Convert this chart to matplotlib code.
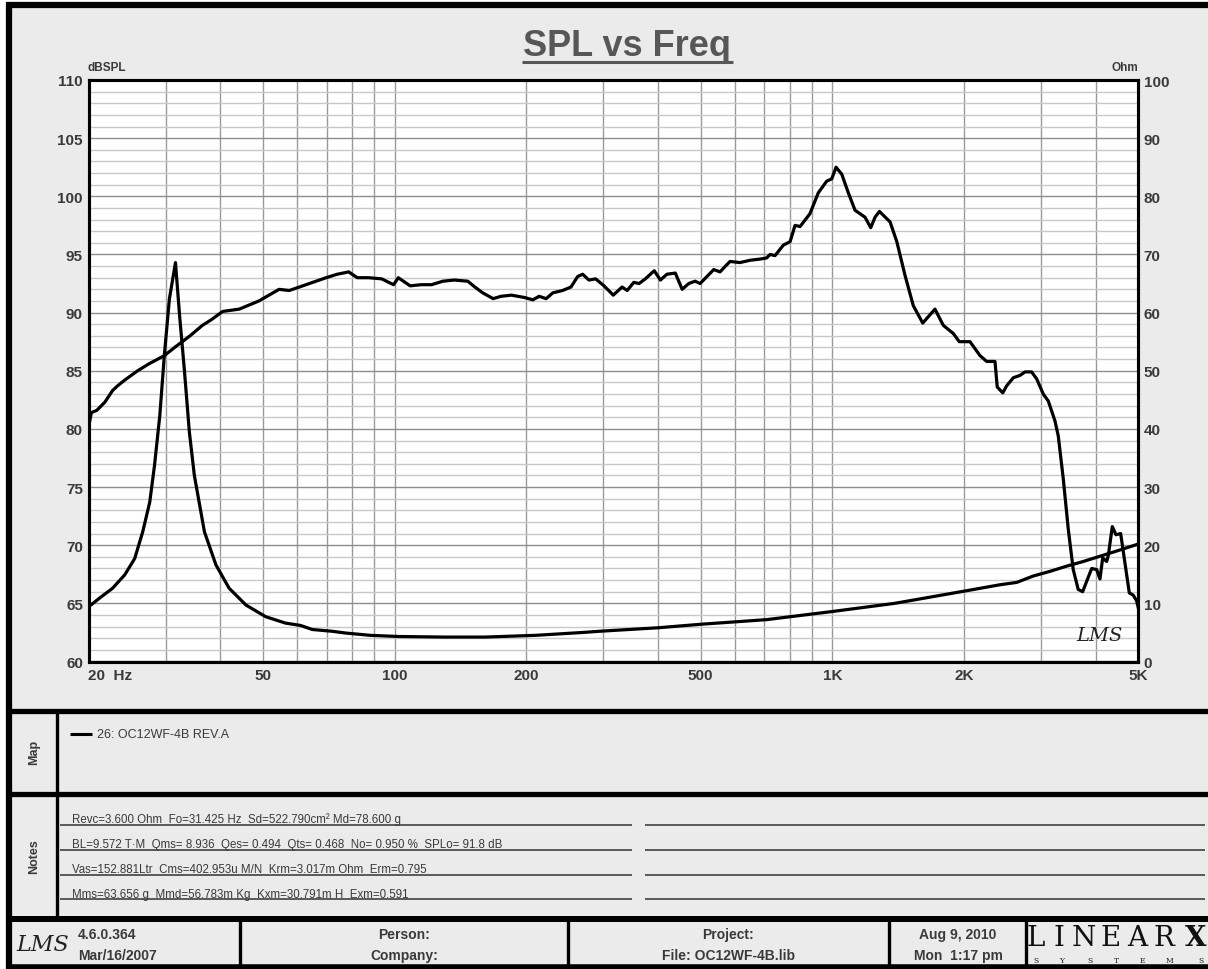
import matplotlib.pyplot as plt
from matplotlib.patches import Rectangle
from matplotlib.ticker import FixedLocator, MultipleLocator, NullFormatter

W, H = 1208, 970

# SPL response (left axis, dB)
spl_freq = [20, 20.3, 20.9, 21.8, 22.7, 23.3, 24.2, 25.9, 27.5, 29.8, 31.7, 34.1,
            36.4, 38.2, 40.5, 44.2, 49.0, 54.5, 57.5, 60.6, 65, 69.8, 74, 78.6,
            82.2, 87.3, 93.5, 99.5, 102, 108.6, 115, 121.5, 129, 137, 147, 152.6,
            159, 168, 175, 185, 198, 207, 214, 222, 230, 242, 253, 262, 269, 278,
            288, 301, 316, 331, 340, 352, 362, 374, 392, 405, 419, 438, 454, 470,
            486, 499, 536, 554, 584, 615, 649, 683, 708, 721, 740, 773, 801, 822,
            844, 889, 929, 971, 997, 1020, 1051, 1088, 1127, 1157, 1188, 1224,
            1252, 1281, 1355, 1404, 1466, 1531, 1609, 1671, 1716, 1793, 1890,
            1950, 2063, 2175, 2252, 2353, 2381, 2451, 2502, 2591, 2684, 2755,
            2853, 2930, 3033, 3114, 3225, 3282, 3370, 3459, 3551, 3645, 3731,
            3811, 3913, 4018, 4087, 4146, 4234, 4270, 4361, 4446, 4557, 4661,
            4769, 4870, 4958, 5000]
spl_db = [80.1, 81.4, 81.6, 82.3, 83.3, 83.7, 84.2, 85.0, 85.6, 86.3, 87.1, 88.0,
          88.9, 89.4, 90.1, 90.3, 91.0, 92.0, 91.9, 92.2, 92.6, 93.0, 93.3, 93.5,
          93.0, 93.0, 92.9, 92.4, 93.0, 92.3, 92.4, 92.4, 92.7, 92.8, 92.7, 92.2,
          91.7, 91.2, 91.4, 91.5, 91.3, 91.1, 91.4, 91.2, 91.7, 91.9, 92.2, 93.1,
          93.3, 92.8, 92.9, 92.3, 91.5, 92.2, 91.9, 92.6, 92.5, 92.9, 93.6, 92.8,
          93.3, 93.4, 92.0, 92.5, 92.7, 92.5, 93.7, 93.5, 94.4, 94.3, 94.5, 94.6,
          94.7, 95.0, 94.9, 95.8, 96.1, 97.5, 97.4, 98.5, 100.3, 101.3, 101.5,
          102.5, 101.9, 100.3, 98.8, 98.5, 98.2, 97.3, 98.2, 98.7, 97.8, 96.1,
          93.2, 90.6, 89.1, 89.8, 90.3, 88.9, 88.2, 87.5, 87.5, 86.3, 85.8, 85.8,
          83.6, 83.1, 83.7, 84.4, 84.6, 84.9, 84.9, 84.3, 83.0, 82.4, 80.7, 79.4,
          75.7, 71.4, 67.9, 66.2, 66.0, 66.9, 68.0, 67.9, 67.1, 68.9, 68.6, 69.1,
          71.6, 70.9, 71.0, 68.5, 65.9, 65.7, 65.2, 64.6]

# impedance (right axis, Ohm)
imp_freq = [20, 21.2, 22.7, 24.2, 25.5, 26.6, 27.6, 28.3, 29.1, 29.8, 30.6, 31.6,
            32.3, 33.1, 34.0, 34.9, 36.8, 39.1, 41.9, 45.8, 50.8, 56.4, 61, 64.9,
            72, 77.2, 88, 102, 130, 161, 210, 270, 294, 400, 500, 708, 1001, 1388,
            2002, 2416, 2638, 2877, 3142, 3431, 3744, 4087, 4463, 5000]
imp_ohm = [9.4, 10.9, 12.6, 14.9, 17.7, 22.3, 27.4, 33.7, 42.3, 52.6, 62.3, 68.6,
           59.4, 50.3, 39.4, 32.0, 22.3, 16.6, 12.6, 9.7, 7.7, 6.6, 6.2, 5.5,
           5.2, 4.9, 4.5, 4.3, 4.2, 4.2, 4.5, 5.0, 5.2, 5.8, 6.4, 7.2, 8.6, 10.0,
           12.1, 13.2, 13.6, 14.7, 15.5, 16.4, 17.2, 18.1, 19.0, 20.2]

freq_ticks = [20, 50, 100, 200, 500, 1000, 2000, 5000]
freq_labels = ["20  Hz", "50", "100", "200", "500", "1K", "2K", "5K"]
freq_grid = [20, 30, 40, 50, 60, 70, 80, 90, 100, 200, 300, 400, 500, 600, 700,
             800, 900, 1000, 2000, 3000, 4000, 5000]
spl_ticks = list(range(60, 111, 5))
ohm_ticks = list(range(0, 101, 10))

map_label = "26: OC12WF-4B REV.A"
notes = [
    "Revc=3.600 Ohm  Fo=31.425 Hz  Sd=522.790cm\u00b2 Md=78.600 g",
    "BL=9.572 T\u00b7M  Qms= 8.936  Qes= 0.494  Qts= 0.468  No= 0.950 %  SPLo= 91.8 dB",
    "Vas=152.881Ltr  Cms=402.953u M/N  Krm=3.017m Ohm  Erm=0.795",
    "Mms=63.656 g  Mmd=56.783m Kg  Kxm=30.791m H  Exm=0.591",
]
footer = [(404, "Person:", "Company:"),
          (728, "Project:", "File: OC12WF-4B.lib"),
          (958, "Aug 9, 2010", "Mon  1:17 pm")]

plt.rcParams['font.family'] = ['Liberation Sans', 'DejaVu Sans']
ink = '#3a3a3a'

fig = plt.figure(figsize=(W / 100, H / 100), dpi=100)
fig.patch.set_facecolor('white')

# background sheet in pixel coordinates
bg = fig.add_axes([0, 0, 1, 1], zorder=0)
bg.set_xlim(0, W)
bg.set_ylim(H, 0)
bg.axis('off')
bg.add_patch(Rectangle((9, 6), W, 962, facecolor='#ebebeb', edgecolor='none'))

def hline(y, x0, x1, lw, color='black'):
    bg.plot([x0, x1], [y, y], color=color, lw=lw, solid_capstyle='butt')

def vline(x, y0, y1, lw, color='black'):
    bg.plot([x, x], [y0, y1], color=color, lw=lw, solid_capstyle='butt')

# frame and section dividers
vline(9, 3, 970, 4.5)
hline(6, 6, W, 4.5)
hline(968, 6, W, 4)
hline(712, 6, W, 3.8)
hline(795, 6, W, 3.8)
hline(920, 6, W, 4.3)
vline(57, 712, 920, 2.4)
for x in [240, 568, 889, 1026]:
    vline(x, 920, 968, 2.4)

# title
bg.text(627, 46, "SPL vs Freq", ha='center', va='center', fontsize=26,
        weight='bold', color='#575757')
hline(63, 522, 733, 2.2, color='#575757')
bg.text(88, 68, "dBSPL", ha='left', va='center', fontsize=8.5, weight='bold', color=ink)
bg.text(1138, 68, "Ohm", ha='right', va='center', fontsize=8.5, weight='bold', color=ink)

# map panel
bg.text(34, 752, "Map", rotation=90, ha='center', va='center', fontsize=9,
        weight='bold', color=ink)
hline(735, 70, 92, 2.2)
bg.text(97, 735, map_label, ha='left', va='center', fontsize=9, color=ink)

# notes panel
bg.text(34, 857, "Notes", rotation=90, ha='center', va='center', fontsize=9,
        weight='bold', color=ink)
for i, line in enumerate(notes):
    y = 826 + i * 24.8
    bg.text(72, y - 2.5, line, ha='left', va='baseline', fontsize=8.3, color=ink)
    hline(y, 60, 632, 1.1, color='#333333')
    hline(y, 645, 1205, 1.1, color='#333333')

# footer
bg.text(43, 945, "LMS", ha='center', va='center', fontsize=16, style='italic',
        family='DejaVu Serif', color='#222222')
bg.text(78, 935, "4.6.0.364", ha='left', va='center', fontsize=10, weight='bold', color=ink)
bg.text(78, 956, "Mar/16/2007", ha='left', va='center', fontsize=10, weight='bold', color=ink)
for xc, top, bottom in footer:
    bg.text(xc, 935, top, ha='center', va='center', fontsize=10, weight='bold', color=ink)
    bg.text(xc, 956, bottom, ha='center', va='center', fontsize=10, weight='bold', color=ink)
for x, ch in zip([1036, 1059, 1084, 1111, 1137, 1164, 1196], "LINEARX"):
    bg.text(x, 939, ch, ha='center', va='center', fontsize=20, family='DejaVu Serif',
            weight='bold' if ch == 'X' else 'light', color='#111111')
for x, ch in zip([1036, 1062, 1090, 1117, 1142, 1170, 1201], "SYSTEMS"):
    bg.text(x, 961, ch, ha='center', va='center', fontsize=5.5, family='DejaVu Serif',
            color='#222222')

# main plot
left, right, top, bottom = 88.5, 1138.3, 81, 662.5
ax = fig.add_axes([left / W, 1 - bottom / H, (right - left) / W, (bottom - top) / H], zorder=2)
ax.set_facecolor('white')
ax.set_xscale('log')
ax.set_xlim(20, 5000)
ax.set_ylim(60, 110)
ax.xaxis.set_major_locator(FixedLocator(freq_ticks))
ax.xaxis.set_minor_locator(FixedLocator(freq_grid))
ax.xaxis.set_minor_formatter(NullFormatter())
ax.set_xticklabels(freq_labels)
ax.yaxis.set_major_locator(FixedLocator(spl_ticks))
ax.yaxis.set_minor_locator(MultipleLocator(1))
ax.grid(which='minor', axis='y', color='#c8c8c8', lw=1.0)
ax.grid(which='major', axis='y', color='#8e8e8e', lw=1.0)
ax.grid(which='both', axis='x', color='#9a9a9a', lw=1.0)
ax.set_axisbelow(True)
ax.tick_params(which='both', length=0)
ax.tick_params(axis='y', pad=4, labelsize=11, labelcolor=ink)
ax.tick_params(axis='x', pad=5, labelsize=11, labelcolor=ink)
for lab in ax.get_xticklabels() + ax.get_yticklabels():
    lab.set_fontweight('bold')
ax.get_xticklabels()[0].set_horizontalalignment('left')
for s in ax.spines.values():
    s.set_linewidth(2.2)
ax.plot(spl_freq, spl_db, color='black', lw=2.3, solid_joinstyle='round', zorder=3)

ax2 = ax.twinx()
ax2.set_zorder(3)
ax2.set_ylim(0, 100)
ax2.yaxis.set_major_locator(FixedLocator(ohm_ticks))
ax2.tick_params(length=0, pad=4, labelsize=11, labelcolor=ink)
for lab in ax2.get_yticklabels():
    lab.set_fontweight('bold')
for s in ax2.spines.values():
    s.set_linewidth(2.2)
ax2.plot(imp_freq, imp_ohm, color='black', lw=2.3, solid_joinstyle='round', zorder=3)
ax2.text(0.963, 0.045, "LMS", transform=ax.transAxes, ha='center', va='center',
         fontsize=14, style='italic', family='DejaVu Serif', color='#222222')

fig.savefig('out.png', dpi=100, facecolor=fig.get_facecolor())
